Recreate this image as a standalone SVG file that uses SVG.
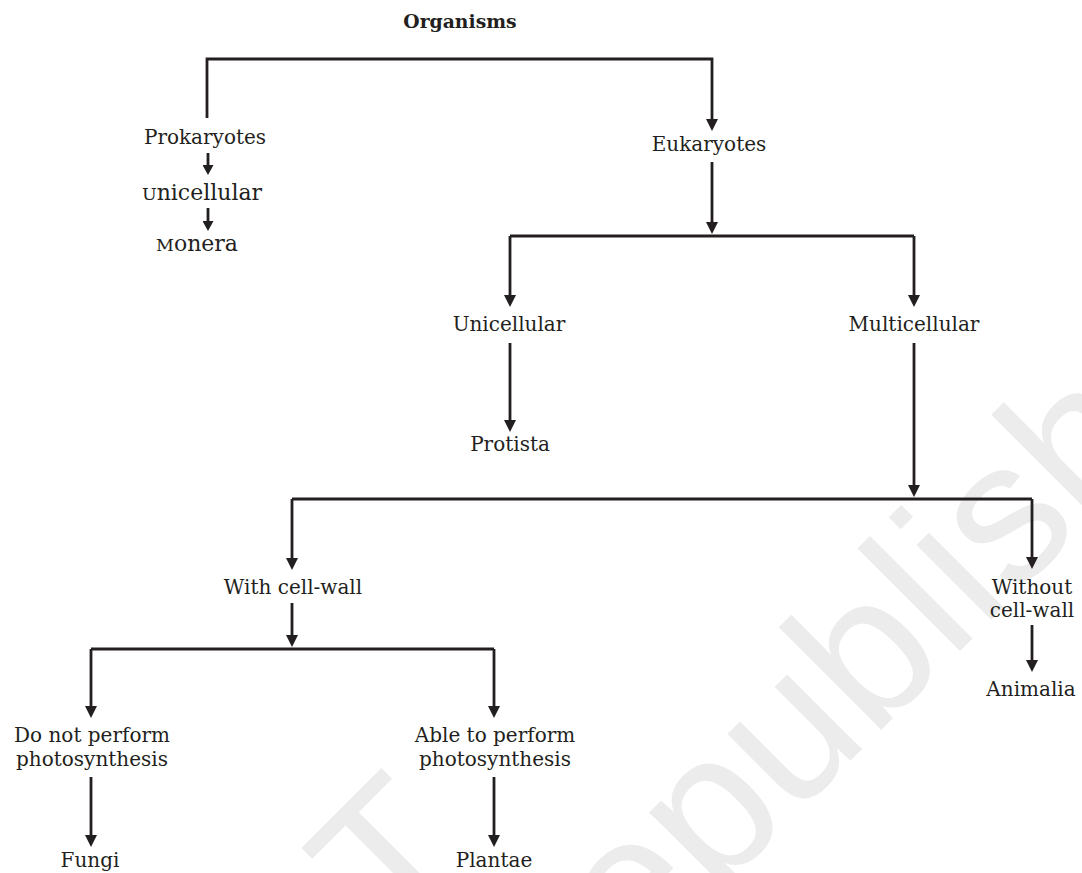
<svg xmlns="http://www.w3.org/2000/svg" width="1082" height="873" viewBox="0 0 1082 873">
<style>
.t{font-family:"DejaVu Serif","Liberation Serif",serif;font-size:20px;fill:#231f20;text-anchor:middle}
.b{font-weight:bold;font-size:18.8px}
.big{font-size:22px}
.sc{font-size:17.5px}
.wm{font-family:"Liberation Sans",Arial,sans-serif;font-size:200px;fill:#ececec}
.c{fill:none;stroke:#231f20;stroke-width:2.8}
.a{marker-end:url(#ah)}
.s{marker-end:url(#ahs)}
</style>
<defs>
<marker id="ah" viewBox="0 0 12 12" markerWidth="12" markerHeight="12" refX="8" refY="6" orient="auto" markerUnits="userSpaceOnUse"><path d="M0,0 L12,6 L0,12 z" fill="#231f20"/></marker>
<marker id="ahs" viewBox="0 0 10 11" markerWidth="10" markerHeight="11" refX="6" refY="5.5" orient="auto" markerUnits="userSpaceOnUse"><path d="M0,0 L10,5.5 L0,11 z" fill="#231f20"/></marker>
</defs>
<rect width="1082" height="873" fill="#ffffff"/>
<g id="watermark">
<text class="wm" text-anchor="end" transform="translate(482,862) rotate(-45)">© NCERT</text>
<text class="wm" transform="translate(-1,1612) rotate(-45)">not to be republished</text>
</g>
<g id="connectors">
<path class="c a" d="M207,118 V59 H712 V127"/>
<path class="c s" d="M208,153 V171"/>
<path class="c s" d="M208,208 V227"/>
<path class="c a" d="M712,162 V230"/>
<path class="c" d="M510,236 H914"/>
<path class="c a" d="M510,236 V303"/>
<path class="c a" d="M914,236 V303"/>
<path class="c a" d="M510,343 V428"/>
<path class="c a" d="M914,343 V493"/>
<path class="c" d="M292,499 H1032"/>
<path class="c a" d="M292,499 V566"/>
<path class="c a" d="M1032,499 V565"/>
<path class="c a" d="M292,603 V643"/>
<path class="c" d="M91,649 H494"/>
<path class="c a" d="M91,649 V714"/>
<path class="c a" d="M494,649 V714"/>
<path class="c a" d="M1032,625 V668"/>
<path class="c a" d="M91,777 V843"/>
<path class="c a" d="M494,777 V843"/>
</g>
<g id="organisms"><text class="t b" x="460" y="28">Organisms</text></g>
<g id="prokaryotes"><text class="t" x="205" y="144">Prokaryotes</text></g>
<g id="unicellular-prok"><text class="t big" x="202" y="200"><tspan class="sc">U</tspan>nicellular</text></g>
<g id="monera"><text class="t big" x="197" y="251"><tspan class="sc">M</tspan>onera</text></g>
<g id="eukaryotes"><text class="t" x="709" y="151">Eukaryotes</text></g>
<g id="unicellular-euk"><text class="t" x="509" y="331">Unicellular</text></g>
<g id="multicellular"><text class="t" x="914" y="331">Multicellular</text></g>
<g id="protista"><text class="t" x="510" y="451">Protista</text></g>
<g id="with-cell-wall"><text class="t" x="293" y="594">With cell-wall</text></g>
<g id="without-cell-wall"><text class="t" x="1032" y="594">Without</text><text class="t" x="1032" y="617">cell-wall</text></g>
<g id="animalia"><text class="t" x="1031" y="696">Animalia</text></g>
<g id="no-photosynthesis"><text class="t" x="92" y="742">Do not perform</text><text class="t" x="92" y="766">photosynthesis</text></g>
<g id="photosynthesis"><text class="t" x="495" y="742">Able to perform</text><text class="t" x="495" y="766">photosynthesis</text></g>
<g id="fungi"><text class="t" x="90" y="867">Fungi</text></g>
<g id="plantae"><text class="t" x="494" y="867">Plantae</text></g>
</svg>
